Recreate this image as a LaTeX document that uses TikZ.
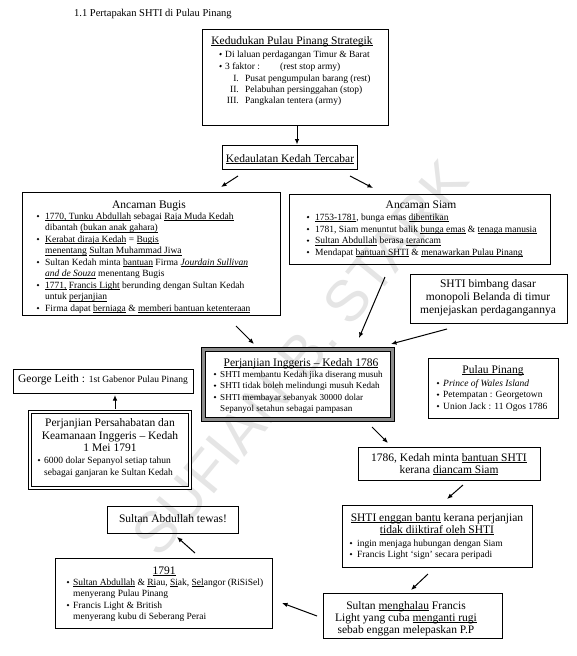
\documentclass[tikz,border=0pt]{standalone}
\usepackage{fontspec}
\setmainfont{Liberation Serif}
\newfontfamily\wmfont{Liberation Sans}
\usetikzlibrary{arrows.meta,calc}
\newcommand\fs{\fontsize{9.5}{11.5}\selectfont}
\newcommand\fsn{\fontsize{9.1}{11.5}\selectfont}
\newcommand\ft{\fontsize{11.5}{13.5}\selectfont}
\newcommand\uln[1]{\underline{\smash{#1}}}
\newcommand\bul[2]{\fill ({#1},{(#2)-2.9}) circle (1.35pt);}
\newcommand\mkbox[6][]{\node[box,#1,minimum width={(#5)-(#3)},minimum height={(#6)-(#4)}] (#2) at ({((#3)+(#5))/2},{((#4)+(#6))/2}) {};}
\begin{document}
\begin{tikzpicture}[x=1pt,y=-1pt,
 box/.style={draw,line width=0.9pt,inner sep=0pt,outer sep=0pt},
 arr/.style={-{Latex[length=5.5pt,width=4.5pt]},line width=1pt},
 tx/.style={inner sep=0pt,anchor=base west,font=\fs},
 txn/.style={inner sep=0pt,anchor=base west,font=\fsn},
 tt/.style={inner sep=0pt,anchor=base,font=\ft},
 rn/.style={inner sep=0pt,anchor=base east,font=\fs}]
\useasboundingbox (0,0) rectangle (577,656);
% watermark
\node[rotate=50.5,text=black!10,font={\wmfont\fontsize{58}{58}\selectfont}] (wm) at (300,358) {SUFIAN B. STARK};
% page title
\node[inner sep=0pt,anchor=base west,font={\fontsize{10.5}{12}\selectfont}] (title) at (74,16) {1.1 Pertapakan SHTI di Pulau Pinang};

% Kedudukan
\mkbox{kedudukan}{202}{29}{388}{125}
\node[tt] (kt) at (292,44) {\uln{Kedudukan Pulau Pinang Strategik}};
\bul{220.5}{57}\node[tx] (k1) at (225,57) {Di laluan perdagangan Timur \& Barat};
\bul{220.5}{69}\node[tx] (k2) at (225,69) {3 faktor :};
\node[tx] (k2b) at (280,69) {(rest stop army)};
\node[rn] (kr1) at (239,81) {I.}; \node[tx] (k3) at (245,81) {Pusat pengumpulan barang (rest)};
\node[rn] (kr2) at (239,92) {II.}; \node[tx] (k4) at (245,92) {Pelabuhan persinggahan (stop)};
\node[rn] (kr3) at (239,103) {III.}; \node[tx] (k5) at (245,103) {Pangkalan tentera (army)};

% Kedaulatan
\mkbox{kedaulatan}{222}{145}{357}{169}
\node[tt] (kdt) at (290,162) {\uln{Kedaulatan Kedah Tercabar}};

% Ancaman Bugis
\mkbox{bugis}{22}{192}{280}{315}
\node[tt] (bt) at (149,208) {Ancaman Bugis};
\bul{38}{219}\node[tx] (b1) at (45,219) {\uln{1770, Tunku Abdullah} sebagai \uln{Raja Muda Kedah}};
\node[tx] (b2) at (45,230.5) {dibantah \uln{(bukan anak gahara)}};
\bul{38}{242}\node[tx] (b3) at (45,242) {\uln{Kerabat diraja Kedah} = \uln{Bugis}};
\node[tx] (b4) at (45,253.5) {\uln{menentang} \uln{Sultan Muhammad Jiwa}};
\bul{38}{265}\node[tx] (b5) at (45,265) {Sultan Kedah minta \uln{bantuan} Firma \uln{\textit{Jourdain Sullivan}}};
\node[tx] (b6) at (45,276.5) {\uln{\textit{and de Souza}} menentang Bugis};
\bul{38}{288}\node[tx] (b7) at (45,288) {\uln{1771,} \uln{Francis Light} berunding dengan Sultan Kedah};
\node[tx] (b8) at (45,299.5) {untuk \uln{perjanjian}};
\bul{38}{311}\node[tx] (b9) at (45,311) {Firma dapat \uln{berniaga} \& \uln{memberi bantuan ketenteraan}};

% Ancaman Siam
\mkbox{siam}{289}{194}{550}{264}
\node[tt] (st) at (421,208) {Ancaman Siam};
\bul{308}{220}\node[tx] (s1) at (315,220) {\uln{1753-1781}, bunga emas \uln{dibentikan}};
\bul{308}{232}\node[tx] (s2) at (315,232) {1781, Siam menuntut balik \uln{bunga emas} \& \uln{tenaga manusia}};
\bul{308}{243.5}\node[tx] (s3) at (315,243.5) {\uln{Sultan Abdullah} berasa \uln{terancam}};
\bul{308}{255}\node[tx] (s4) at (315,255) {Mendapat \uln{bantuan SHTI} \& \uln{menawarkan Pulau Pinang}};

% SHTI bimbang
\mkbox{bimbang}{410}{274}{567}{323}
\node[tt] (m1) at (488,287) {SHTI bimbang dasar};
\node[tt] (m2) at (488,300) {monopoli Belanda di timur};
\node[tt] (m3) at (488,313) {menjejaskan perdagangannya};

% Perjanjian 1786
\mkbox[double=black!45,double distance=3pt,line width=0.8pt]{p1786}{203.3}{349.3}{392.7}{419.7}
\node[tt] (pt) at (301,366) {\uln{Perjanjian Inggeris -- Kedah 1786}};
\bul{215}{377}\node[txn] (p1) at (220,377) {SHTI membantu Kedah jika diserang musuh};
\bul{215}{388.5}\node[txn] (p2) at (220,388.5) {SHTI tidak boleh melindungi musuh Kedah};
\bul{215}{400}\node[txn] (p3) at (220,400) {SHTI membayar sebanyak 30000 dolar};
\node[txn] (p4) at (220,411) {Sepanyol setahun sebagai pampasan};

% George Leith
\mkbox{leith}{13}{369}{193}{393}
\node[tt] (lt) at (103,382) {George Leith : {\fs 1st Gabenor Pulau Pinang}};

% Perjanjian Persahabatan
\mkbox[double,double distance=2pt,line width=0.9pt]{p1791}{30}{412}{190}{488}
\node[tt] (q1) at (110,426) {Perjanjian Persahabatan dan};
\node[tt] (q2) at (110,439) {Keamanaan Inggeris -- Kedah};
\node[tt] (q3) at (110,451) {1 Mei 1791};
\bul{39}{463}\node[tx] (q4) at (44,463) {6000 dolar Sepanyol setiap tahun};
\node[tx] (q5) at (44,475) {sebagai ganjaran ke Sultan Kedah};

% Pulau Pinang
\mkbox{pinang}{428}{358}{558}{418}
\node[tt] (ppt) at (493,373) {\uln{Pulau Pinang}};
\bul{438}{386}\node[tx] (pp1) at (443,386) {\textit{Prince of Wales Island}};
\bul{438}{397.5}\node[tx] (pp2) at (443,397.5) {Petempatan : Georgetown};
\bul{438}{409}\node[tx] (pp3) at (443,409) {Union Jack : 11 Ogos 1786};

% 1786 Kedah minta
\mkbox{minta}{358}{447}{540}{480}
\node[tt] (mt1) at (449,461) {1786, Kedah minta \uln{bantuan SHTI}};
\node[tt] (mt2) at (449,473) {kerana \uln{diancam Siam}};

% SHTI enggan
\mkbox{enggan}{342}{505}{532}{567}
\node[tt] (e1) at (437,521) {\uln{SHTI enggan bantu} kerana perjanjian};
\node[tt] (e2) at (437,533) {\uln{tidak diiktiraf oleh SHTI}};
\bul{351}{546}\node[tx] (e3) at (357,546) {ingin menjaga hubungan dengan Siam};
\bul{351}{557}\node[tx] (e4) at (357,557) {Francis Light `sign' secara peripadi};

% Sultan menghalau
\mkbox{halau}{323}{593}{502}{638}
\node[tt] (h1) at (406,609) {Sultan \uln{menghalau} Francis};
\node[tt] (h2) at (406,621) {Light yang cuba \uln{menganti rugi}};
\node[tt] (h3) at (406,633) {sebab enggan melepaskan P.P};

% Sultan Abdullah tewas
\mkbox{tewas}{107}{506}{238}{533}
\node[tt] (tw) at (173,522) {Sultan Abdullah tewas!};

% 1791
\mkbox{y1791}{55}{558}{272}{628}
\node[tt] (yt) at (164,574) {\uln{1791}};
\bul{68}{585}\node[tx] (y1) at (73,585) {\uln{Sultan Abdullah} \& \uln{Ri}au, \uln{Si}ak, \uln{Sel}angor (RiSiSel)};
\node[tx] (y2) at (73,596.5) {menyerang Pulau Pinang};
\bul{68}{608}\node[tx] (y3) at (73,608) {Francis Light \& British};
\node[tx] (y4) at (73,619.5) {menyerang kubu di Seberang Perai};

% arrows
\coordinate (a1s) at (297,125.5); \coordinate (a1e) at (297,144.5);
\coordinate (a2s) at (238,176); \coordinate (a2e) at (221,187);
\coordinate (a3s) at (350,176); \coordinate (a3e) at (373,188);
\coordinate (a4s) at (236,326); \coordinate (a4e) at (254,344);
\coordinate (a5s) at (385,277); \coordinate (a5e) at (359,338);
\coordinate (a6s) at (447,329); \coordinate (a6e) at (391,344);
\coordinate (a7s) at (372,427); \coordinate (a7e) at (388,443);
\coordinate (a8s) at (115,409); \coordinate (a8e) at (115,395);
\coordinate (a9s) at (463,485); \coordinate (a9e) at (447,499);
\coordinate (a10s) at (428,574); \coordinate (a10e) at (411,590);
\coordinate (a11s) at (317,616); \coordinate (a11e) at (282,603);
\coordinate (a12s) at (195,553); \coordinate (a12e) at (177,537);
\foreach \i in {1,...,12}{\draw[arr] (a\i s) -- (a\i e);}
\end{tikzpicture}
\end{document}
